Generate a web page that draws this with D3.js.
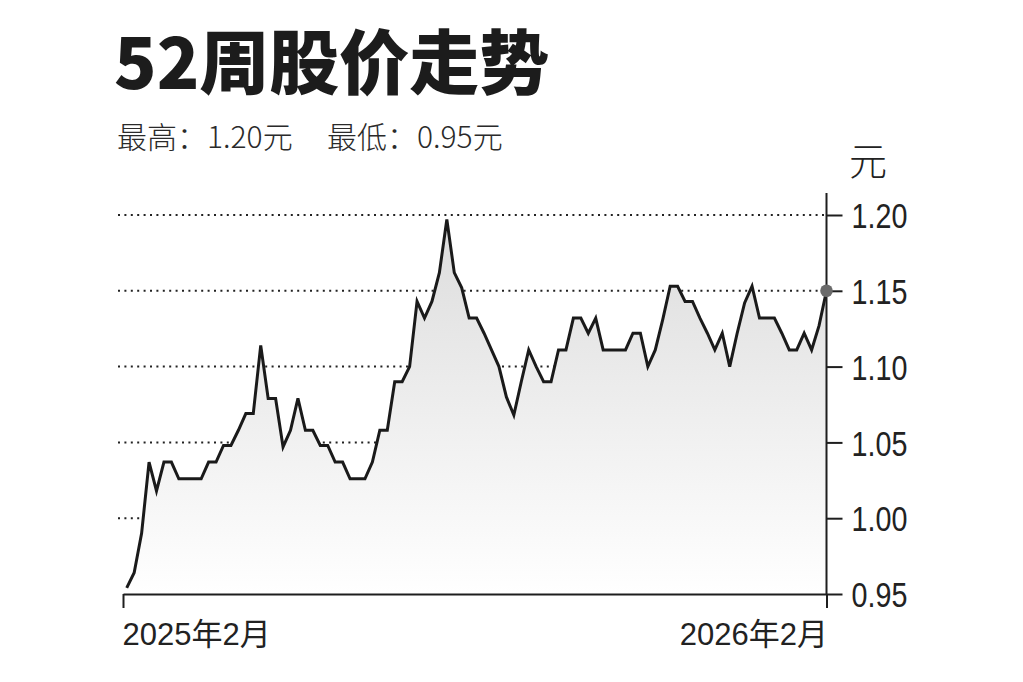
<!DOCTYPE html>
<html>
<head>
<meta charset="utf-8">
<script src="https://cdn.jsdelivr.net/npm/d3@7"></script>
<style>
  html, body { margin: 0; padding: 0; background: #fff; }
  svg { display: block; }
</style>
</head>
<body>
<div id="chart"></div>
<script>
// chart data
const titleText = "52周股价走势";
const highText = "最高：1.20元";
const lowText = "最低：0.95元";
const unitText = "元";

// closing prices, oldest first
const prices = [
  0.954, 0.964, 0.990, 1.037, 1.018, 1.037, 1.037, 1.026, 1.026, 1.026,
  1.026, 1.037, 1.037, 1.048, 1.048, 1.058, 1.069, 1.069, 1.114, 1.079,
  1.079, 1.047, 1.058, 1.079, 1.058, 1.058, 1.048, 1.048, 1.037, 1.037,
  1.026, 1.026, 1.026, 1.037, 1.058, 1.058, 1.090, 1.090, 1.100, 1.143,
  1.132, 1.143, 1.162, 1.197, 1.162, 1.152, 1.132, 1.132, 1.122, 1.111,
  1.100, 1.080, 1.068, 1.090, 1.111, 1.100, 1.090, 1.090, 1.111, 1.111,
  1.132, 1.132, 1.122, 1.132, 1.111, 1.111, 1.111, 1.111, 1.122, 1.122,
  1.100, 1.111, 1.131, 1.153, 1.153, 1.143, 1.143, 1.132, 1.122, 1.111,
  1.122, 1.100, 1.122, 1.142, 1.153, 1.132, 1.132, 1.132, 1.122, 1.111,
  1.111, 1.122, 1.111, 1.127, 1.150
];

const yTicks = [0.95, 1.00, 1.05, 1.10, 1.15, 1.20];
const xTickIdx = [-0.5, prices.length - 1];
const xTickLabels = ["2025年2月", "2026年2月"];

const W = 1023, H = 682;
const plot = { left: 123, right: 826.5, top: 215, bottom: 594 };

const cjk = "'Noto Sans CJK SC', 'Noto Sans', sans-serif";
const latin = "'Liberation Sans', 'Noto Sans CJK SC', sans-serif";

const svg = d3.select("#chart").append("svg")
    .attr("width", W)
    .attr("height", H);

const x = d3.scaleLinear().domain([-0.5, prices.length - 1]).range([plot.left, plot.right]);
const y = d3.scaleLinear().domain([0.95, 1.20]).range([plot.bottom, plot.top]);

// soft grey fill under the line
const grad = svg.append("defs").append("linearGradient")
    .attr("id", "fillGrad")
    .attr("gradientUnits", "userSpaceOnUse")
    .attr("x1", 0).attr("x2", 0)
    .attr("y1", y(1.20)).attr("y2", y(0.95));
grad.append("stop").attr("offset", 0).attr("stop-color", "#dcdcdc");
grad.append("stop").attr("offset", 1).attr("stop-color", "#ffffff");

// title + high / low
svg.append("text")
    .attr("x", 114).attr("y", 89)
    .style("font-family", cjk)
    .style("font-weight", 900)
    .style("font-size", "70px")
    .style("fill", "#1c1c1c")
    .text(titleText);

svg.append("text")
    .attr("x", 117).attr("y", 148)
    .style("font-family", cjk)
    .style("font-weight", 300)
    .style("font-size", "30px")
    .style("fill", "#2a2a2a")
    .text(highText);

svg.append("text")
    .attr("x", 327).attr("y", 148)
    .style("font-family", cjk)
    .style("font-weight", 300)
    .style("font-size", "30px")
    .style("fill", "#2a2a2a")
    .text(lowText);

// dotted grid lines
svg.append("g")
  .selectAll("line")
  .data(yTicks.slice(1))
  .join("line")
    .attr("x1", 118)
    .attr("x2", plot.right)
    .attr("y1", d => y(d))
    .attr("y2", d => y(d))
    .attr("stroke", "#222")
    .attr("stroke-width", 2)
    .attr("stroke-dasharray", "2,4.4");

const area = d3.area()
    .x((d, i) => x(i))
    .y0(y(0.95))
    .y1(d => y(d));

const valueline = d3.line()
    .x((d, i) => x(i))
    .y(d => y(d));

svg.append("path")
    .datum(prices)
    .attr("fill", "url(#fillGrad)")
    .attr("d", area);

svg.append("path")
    .datum(prices)
    .attr("fill", "none")
    .attr("stroke", "#1a1a1a")
    .attr("stroke-width", 3)
    .attr("d", valueline);

// x axis (baseline at 0.95)
const xAxis = svg.append("g")
    .attr("transform", "translate(0," + y(0.95) + ")")
    .call(d3.axisBottom(x)
        .tickValues(xTickIdx)
        .tickSize(14)
        .tickSizeOuter(0)
        .tickPadding(15)
        .tickFormat((d, i) => xTickLabels[i]));

xAxis.select(".domain").attr("stroke", "#1e1e1e").attr("stroke-width", 2);
xAxis.selectAll(".tick line").attr("stroke", "#1e1e1e").attr("stroke-width", 2);
xAxis.selectAll(".tick text")
    .style("font-family", latin)
    .style("font-size", "31px")
    .style("fill", "#222")
    .attr("text-anchor", (d, i) => i === 0 ? "start" : "end")
    .attr("x", (d, i) => i === 0 ? -1 : 1);

// y axis on the right
svg.append("line")
    .attr("x1", plot.right).attr("x2", plot.right)
    .attr("y1", 193).attr("y2", y(0.95))
    .attr("stroke", "#1e1e1e")
    .attr("stroke-width", 2);

const yAxis = svg.append("g")
    .attr("transform", "translate(" + plot.right + ",0)")
    .call(d3.axisRight(y)
        .tickValues(yTicks)
        .tickSize(16)
        .tickPadding(9)
        .tickFormat(d3.format(".2f")));

yAxis.select(".domain").remove();
yAxis.selectAll(".tick line").attr("stroke", "#1e1e1e").attr("stroke-width", 2);
// condensed look of the price labels
yAxis.selectAll(".tick text")
    .attr("x", null)
    .attr("dy", "0.36em")
    .attr("transform", "translate(25,0) scale(0.82,1)")
    .style("font-family", latin)
    .style("font-size", "35px")
    .style("fill", "#222");

svg.append("text")
    .attr("x", 849).attr("y", 175)
    .style("font-family", cjk)
    .style("font-weight", 300)
    .style("font-size", "38px")
    .style("fill", "#222")
    .text(unitText);

// last close marker
svg.append("circle")
    .attr("cx", x(prices.length - 1))
    .attr("cy", y(prices[prices.length - 1]))
    .attr("r", 6.3)
    .attr("fill", "#6a6a6a");
</script>
</body>
</html>
